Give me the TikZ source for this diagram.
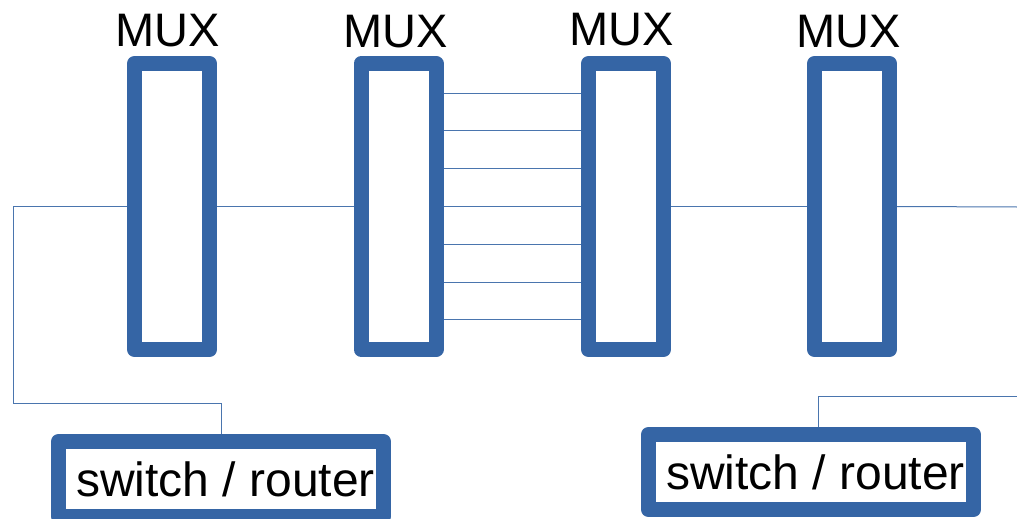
\documentclass[tikz,border=0pt]{standalone}
\usepackage{fontspec}
\setmainfont{Liberation Sans}
\usetikzlibrary{backgrounds}
\definecolor{muxblue}{HTML}{3565A5}
\definecolor{wireblue}{HTML}{4A75AE}
\tikzset{
  muxbox/.style={draw=muxblue, line width=15pt, line join=round, fill=white,
    inner sep=0pt, minimum width=75pt, minimum height=286pt},
  swbox/.style={draw=muxblue, line width=15pt, line join=round, fill=white,
    inner sep=0pt, minimum width=325pt, minimum height=75pt,
    font=\fontsize{48}{50}\selectfont},
  muxlabel/.style={anchor=base, inner sep=0pt, font=\fontsize{47}{50}\selectfont},
  wire/.style={draw=wireblue, line width=1pt}
}
\begin{document}
\begin{tikzpicture}[x=1pt, y=-1pt]
  \useasboundingbox (0,0) rectangle (1017,519);
  \clip (0,0) rectangle (1017,519);

  % multiplexers
  \node[muxbox] (m1) at (172,206.5) {};
  \node[muxbox] (m2) at (398.5,206.5) {};
  \node[muxbox] (m3) at (626,206.5) {};
  \node[muxbox] (m4) at (852,206.5) {};

  \node[muxlabel] (l1) at (168,47) {MUX};
  \node[muxlabel] (l2) at (395.5,48) {MUX};
  \node[muxlabel] (l3) at (622,46) {MUX};
  \node[muxlabel] (l4) at (848.5,48) {MUX};

  % switches / routers
  \node[swbox] (sw1) at (221,479) {\hspace*{9pt}switch / router};
  \node[swbox] (sw2) at (811,472) {\hspace*{9pt}switch / router};

  % free ends of the outer links
  \coordinate (la) at (13,403);
  \coordinate (re) at (1017,207);
  \coordinate (rb) at (1017,396);

  \begin{scope}[on background layer]
    % left side: switch to first mux
    \draw[wire] (m1.west) -| (la) -| (sw1.north);
    % single links between neighbouring muxes
    \draw[wire] (m1.east) -- (m2.west);
    \draw[wire] (m3.east) -- (m4.west);
    \draw[wire] (m4.east) -- (re);
    % bundle of parallel links between the middle muxes
    \foreach \k in {-3,...,3}
      \draw[wire] ([yshift=\k*37.8pt]m2.east) -- ([yshift=\k*37.8pt]m3.west);
    % right side: link down to the second switch
    \draw[wire] (rb) -| ([xshift=7pt]sw2.north);
  \end{scope}
\end{tikzpicture}
\end{document}
